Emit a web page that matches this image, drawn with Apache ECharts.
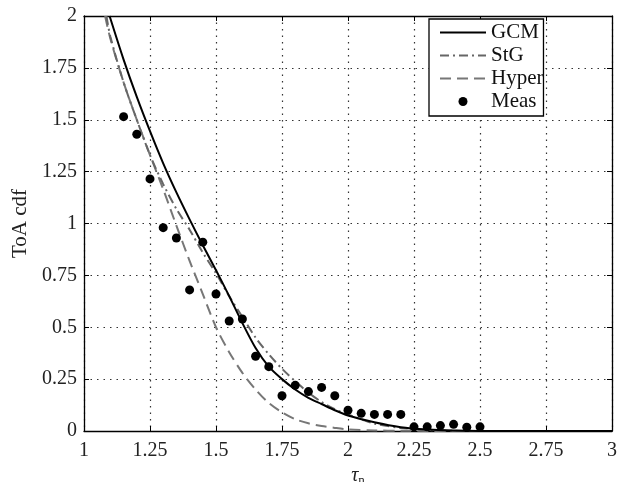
<!DOCTYPE html>
<html><head><meta charset="utf-8">
<script src="https://cdn.jsdelivr.net/npm/echarts@6/dist/echarts.min.js"></script>
<style>html,body{margin:0;padding:0;background:#fff}#c{width:623px;height:482px}</style>
</head><body><div id="c"></div>
<script>
// ---- data ----
const measX = [1.15,1.20,1.25,1.30,1.35,1.40,1.45,1.50,1.55,1.60,1.65,1.70,1.75,1.80,1.85,1.90,1.95,2.00,2.05,2.10,2.15,2.20,2.25,2.30,2.35,2.40,2.45,2.50];
const measY = [1.515,1.43,1.215,0.98,0.93,0.68,0.91,0.66,0.53,0.54,0.36,0.31,0.17,0.22,0.19,0.21,0.17,0.10,0.085,0.08,0.08,0.08,0.02,0.02,0.026,0.032,0.018,0.02];

const gcmX = [1.097,1.15,1.20,1.25,1.30,1.35,1.40,1.45,1.50,1.55,1.60,1.65,1.70,1.75,1.80,1.85,1.90,1.95,2.00,2.10,2.20,2.30,2.40,2.50,2.75,3.00];
const gcmY = [2.00,1.79,1.61,1.445,1.29,1.15,1.02,0.895,0.775,0.65,0.52,0.40,0.31,0.25,0.20,0.16,0.13,0.10,0.075,0.042,0.018,0.007,0.002,0.0005,0,0];

const stgX = [1.085,1.10,1.15,1.20,1.25,1.30,1.35,1.40,1.45,1.50,1.55,1.60,1.65,1.70,1.75,1.80,1.85,1.90,1.95,2.00,2.05,2.10,2.20,2.30,2.40,2.50,2.75,3.00];
const stgY = [2.00,1.90,1.68,1.50,1.33,1.19,1.07,0.97,0.86,0.76,0.65,0.55,0.45,0.37,0.30,0.24,0.185,0.14,0.105,0.08,0.057,0.035,0.015,0.005,0.001,0,0,0];

const hypX = [1.08,1.10,1.15,1.20,1.25,1.30,1.35,1.40,1.45,1.50,1.55,1.60,1.65,1.70,1.75,1.80,1.85,1.90,1.95,2.00,2.10,2.20,2.50,3.00];
const hypY = [2.00,1.89,1.68,1.50,1.33,1.165,0.99,0.82,0.66,0.50,0.38,0.28,0.20,0.135,0.09,0.057,0.037,0.024,0.015,0.008,0.003,0.001,0,0];

const xTicks = {min:1, max:3, interval:0.25};
const yTicks = {min:0, max:2, interval:0.25};
const seriesNames = ['GCM','StG','Hyper','Meas'];

const zip = (xs, ys) => xs.map((x,i)=>[x, ys[i]]);
const FONT = 'Liberation Serif';

const chart = echarts.init(document.getElementById('c'), null, {renderer:'canvas'});
const gridLine = {show:true, lineStyle:{color:'#333', type:[1.5,5], width:1.2}};
const axisCommon = {
  axisLine:{show:true, onZero:false, lineStyle:{color:'#000', width:1.3}},
  axisTick:{show:true, inside:true, length:5, lineStyle:{color:'#000'}},
};
const hideSym = {opacity:0};
chart.setOption({
  animation:false,
  backgroundColor:'#fff',
  grid:{left:84, right:11, top:16, bottom:51, containLabel:false, outerBoundsMode:'none'},
  legend:{
    data:[
      {name:seriesNames[0], itemStyle:hideSym},
      {name:seriesNames[1], itemStyle:hideSym},
      {name:seriesNames[2], itemStyle:hideSym},
      {name:seriesNames[3], icon:'circle', itemStyle:{color:'#000', opacity:1}}
    ],
    orient:'vertical', left:429, top:19,
    backgroundColor:'#fff',
    borderColor:'#000', borderWidth:1.3, borderRadius:0,
    padding:[3,0,4,10],
    itemWidth:46, itemHeight:9, itemGap:2,
    textStyle:{fontFamily:FONT, fontSize:21, color:'#111'}
  },
  xAxis:[
    Object.assign({type:'value', min:xTicks.min, max:xTicks.max, interval:xTicks.interval, position:'bottom',
      name:'{t|τ}{s|n}', nameLocation:'middle', nameGap:33,
      nameTextStyle:{padding:[0,0,0,20], rich:{t:{fontFamily:FONT, fontSize:20, fontStyle:'italic', color:'#222'}, s:{fontFamily:FONT, fontSize:13, color:'#222', verticalAlign:'bottom', padding:[9,0,0,0]}}},
      axisLabel:{fontFamily:FONT, fontSize:20, color:'#222', margin:10},
      splitLine:gridLine}, axisCommon),
    Object.assign({type:'value', min:xTicks.min, max:xTicks.max, interval:xTicks.interval, position:'top',
      axisLabel:{show:false}, splitLine:{show:false}}, axisCommon)
  ],
  yAxis:[
    Object.assign({type:'value', min:yTicks.min, max:yTicks.max, interval:yTicks.interval, position:'left',
      name:'ToA cdf', nameLocation:'middle', nameGap:50, nameRotate:90,
      nameTextStyle:{fontFamily:FONT, fontSize:21, color:'#222'},
      axisLabel:{fontFamily:FONT, fontSize:20, color:'#222', margin:7},
      splitLine:gridLine}, axisCommon),
    Object.assign({type:'value', min:yTicks.min, max:yTicks.max, interval:yTicks.interval, position:'right',
      axisLabel:{show:false}, splitLine:{show:false}}, axisCommon)
  ],
  series:[
    {name:seriesNames[0], type:'line', data:zip(gcmX,gcmY), symbol:'none', smooth:0.3, clip:true,
     lineStyle:{color:'#000', width:2}, itemStyle:{color:'#000'}, z:5},
    {name:seriesNames[1], type:'line', data:zip(stgX,stgY), symbol:'none', smooth:0.3, clip:true,
     lineStyle:{color:'#666', width:2, type:[9,4,2,4]}, itemStyle:{color:'#666'}, z:4},
    {name:seriesNames[2], type:'line', data:zip(hypX,hypY), symbol:'none', smooth:0.3, clip:true,
     lineStyle:{color:'#777', width:2, type:[11,6]}, itemStyle:{color:'#777'}, z:3},
    {name:seriesNames[3], type:'scatter', data:zip(measX,measY), symbol:'circle', symbolSize:9,
     itemStyle:{color:'#000', opacity:1}, z:6}
  ]
});
</script></body></html>
